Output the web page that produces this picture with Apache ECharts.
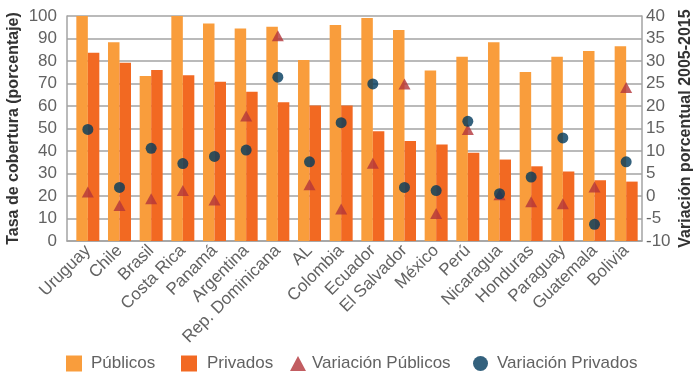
<!DOCTYPE html>
<html>
<head>
<meta charset="utf-8">
<script src="https://cdn.jsdelivr.net/npm/echarts@6/dist/echarts.min.js"></script>
<style>
  html, body { margin: 0; padding: 0; background: #fff; }
  #chart { width: 697px; height: 375px; }
</style>
</head>
<body>
<div id="chart"></div>
<script>
// Countries (plus the regional average "AL")
const countries = ['Uruguay', 'Chile', 'Brasil', 'Costa Rica', 'Panamá', 'Argentina',
  'Rep. Dominicana', 'AL', 'Colombia', 'Ecuador', 'El Salvador', 'México', 'Perú',
  'Nicaragua', 'Honduras', 'Paraguay', 'Guatemala', 'Bolivia'];

// Coverage rate (%) — public and private
const publicos = [100, 88.3, 73.3, 100, 96.7, 94.5, 95.2, 80.4, 96, 99.1, 93.8, 75.8, 81.9, 88.3, 75.1, 81.9, 84.4, 86.6];
const privados = [83.7, 79.2, 76, 73.7, 70.8, 66.3, 61.7, 60.2, 60.2, 48.8, 44.4, 42.9, 39.2, 36.2, 33.2, 30.9, 27, 26.4];

// Percentage change 2005-2015
const varPublicos = [0.9, -2.1, -0.6, 1.2, -0.9, 17.8, 35.6, 2.5, -2.9, 7.3, 24.9, -3.9, 14.8, 0.3, -1.3, -1.7, 2.0, 24.1];
const varPrivados = [14.8, 1.9, 10.6, 7.2, 8.8, 10.2, 26.4, 7.6, 16.3, 24.9, 1.9, 1.2, 16.6, 0.5, 4.2, 12.9, -6.3, 7.6];

const textColor = '#626262';
const gridColor = '#a3a3a3';
const font = 'Liberation Sans';

// One legend entry per component so each key sits at its own x position
function legendItem(name, icon, left, w, h, gap) {
  return {
    top: 355, left: left, padding: 0,
    itemWidth: w, itemHeight: h,
    textStyle: { fontFamily: font, fontSize: 17, color: textColor, padding: [0, 0, 0, gap] },
    data: [{ name: name, icon: icon }]
  };
}

const chart = echarts.init(document.getElementById('chart'), null, { renderer: 'canvas' });
chart.setOption({
  animation: false,
  textStyle: { fontFamily: font },
  grid: [
    // data area: categories start a little right of the left axis line
    { left: 72, right: 55, top: 16, bottom: 134, containLabel: false, outerBoundsMode: 'none' },
    // frame: left axis, gridlines and baseline
    { left: 67, right: 55, top: 16, bottom: 134, containLabel: false, outerBoundsMode: 'none' }
  ],
  legend: [
    legendItem('Públicos', 'rect', 66, 16, 16, 4),
    legendItem('Privados', 'rect', 181, 16, 16, 5),
    legendItem('Variación Públicos', 'triangle', 290, 16, 15, 1),
    legendItem('Variación Privados', 'circle', 473, 15, 15, 4)
  ],
  xAxis: [
    {
      type: 'category', gridIndex: 0,
      data: countries,
      axisLine: { show: false },
      axisTick: { show: false },
      axisLabel: {
        interval: 0, rotate: 45, color: textColor, fontFamily: font, fontSize: 17, margin: 7
      }
    },
    {
      type: 'value', gridIndex: 1, min: 0, max: 1,
      axisLine: { show: true, onZero: false, lineStyle: { color: gridColor, width: 1.5 } },
      axisTick: { show: false },
      axisLabel: { show: false },
      splitLine: { show: false }
    }
  ],
  yAxis: [
    {
      type: 'value', gridIndex: 0, min: 0, max: 100, interval: 10,
      show: false, splitLine: { show: false }
    },
    {
      type: 'value', gridIndex: 0, min: -10, max: 40, interval: 5, position: 'right',
      name: 'Variación porcentual 2005-2015',
      nameLocation: 'middle', nameGap: 36, nameRotate: 90, nameMoveOverlap: false,
      nameTextStyle: { fontFamily: font, fontSize: 16, fontWeight: 'bold', color: '#333' },
      axisLine: { show: true, lineStyle: { color: gridColor, width: 1.5 } },
      axisTick: { show: false },
      axisLabel: { color: textColor, fontFamily: font, fontSize: 17, margin: 4 },
      splitLine: { show: false }
    },
    {
      type: 'value', gridIndex: 1, min: 0, max: 100, interval: 10,
      name: 'Tasa de cobertura (porcentaje)',
      nameLocation: 'middle', nameGap: 45, nameRotate: 90, nameMoveOverlap: false,
      nameTextStyle: { fontFamily: font, fontSize: 16, fontWeight: 'bold', color: '#333' },
      axisLine: { show: true, lineStyle: { color: gridColor, width: 1.5 } },
      axisTick: { show: false },
      axisLabel: { color: textColor, fontFamily: font, fontSize: 17, margin: 10 },
      splitLine: { lineStyle: { color: gridColor, width: 1.5 } }
    }
  ],
  series: [
    {
      name: 'Públicos', type: 'bar', xAxisIndex: 0, yAxisIndex: 0, data: publicos,
      barWidth: 11.5, barGap: '0%',
      itemStyle: { color: '#F99D3C' }
    },
    {
      name: 'Privados', type: 'bar', xAxisIndex: 0, yAxisIndex: 0, data: privados,
      barWidth: 11.5, barGap: '0%',
      itemStyle: { color: '#F26922' }
    },
    {
      name: 'Variación Públicos', type: 'scatter', xAxisIndex: 0, yAxisIndex: 1, data: varPublicos,
      symbol: 'triangle', symbolSize: [12, 11], z: 3,
      itemStyle: { color: '#B3343A' }
    },
    {
      name: 'Variación Privados', type: 'scatter', xAxisIndex: 0, yAxisIndex: 1, data: varPrivados,
      symbol: 'circle', symbolSize: 11, z: 4,
      itemStyle: { color: '#003A5C' }
    }
  ]
});
</script>
</body>
</html>
